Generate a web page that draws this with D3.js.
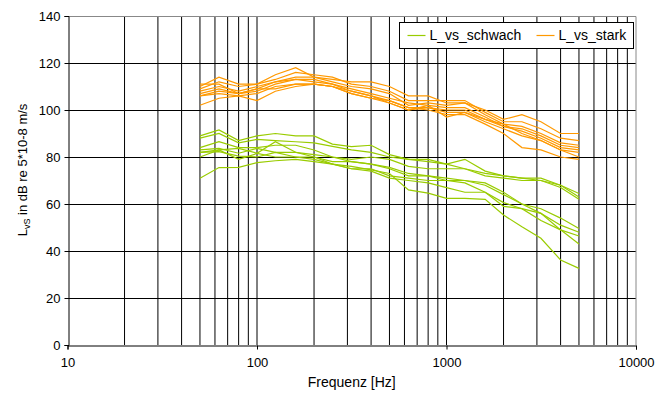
<!DOCTYPE html>
<html>
<head>
<meta charset="utf-8">
<script src="https://cdn.jsdelivr.net/npm/d3@7"></script>
<style>
  body { margin: 0; background: #fff; }
  text { font-family: "Liberation Sans", Arial, sans-serif; fill: #000; }
</style>
</head>
<body>
<script>
// third-octave centre frequencies (Hz)
var freqs = [50, 63, 80, 100, 125, 160, 200, 250, 315, 400, 500, 630, 800, 1000, 1250, 1600, 2000, 2500, 3150, 4000, 5000];

// L_vs_schwach measurements (dB re 5*10-8 m/s)
var schwach = [
  [89, 91.5, 87, 89, 90, 89, 89, 85.5, 84.4, 85, 81, 79, 79, 77, 79, 74, 72, 71, 71, 68, 64.5],
  [88, 90, 86, 87.5, 87, 86.5, 86, 84.5, 83, 82, 80, 79, 78, 77, 75, 73, 72, 71, 70, 68, 63],
  [84, 86.5, 84, 84, 85, 85, 83, 80, 79, 80, 79, 76, 75, 75, 75, 72, 71, 70, 70, 67, 62],
  [83, 83.7, 81.6, 83.7, 82, 82, 81, 80, 78, 77, 75, 72, 72, 71, 70, 69, 65, 60, 58, 54, 49.6],
  [82, 83, 83.7, 81.6, 86.5, 82, 80, 78, 78, 77, 75.6, 73, 72, 70, 70, 68, 64, 60, 56, 51, 48],
  [82, 82.3, 80.4, 80, 82, 80, 80, 77, 75, 75, 72, 71, 70, 70, 69, 65, 60.6, 58, 56, 49, 46.4],
  [80, 83, 79, 81.5, 80, 80, 79, 77, 75, 74, 71, 70, 69, 67, 65, 65, 59, 58, 53, 49, 43],
  [71, 75.5, 75.6, 77.6, 78.4, 79, 78, 77, 76, 74.5, 73, 66, 64.6, 62.4, 62.4, 62, 55.3, 50.3, 45.4, 36.2, 32.6]
];

// L_vs_stark measurements
var stark = [
  [110, 114, 111, 111, 115, 118, 114, 113, 112, 112, 110, 106, 106, 103, 103, 100, 96, 98, 95, 90, 90],
  [109, 112, 110, 111, 113, 116, 115, 114, 111, 110, 108, 104, 104, 104, 104, 99, 95, 95, 92, 88, 87],
  [108, 110, 108, 110, 112, 114, 114, 112, 110, 109, 107, 102, 103, 102, 103, 98, 94, 93, 90, 86, 85],
  [107, 109, 107, 109, 112, 113, 113, 111, 109, 107, 105, 103, 102, 101, 101, 97, 93, 92, 89, 85, 84],
  [106, 108, 107, 108, 111, 113, 112, 111, 108, 106, 104, 101, 101, 100, 100, 96, 93, 91, 88, 84, 83],
  [106, 107, 106, 107, 110, 111, 111, 110, 107, 105, 103, 100, 101, 99, 99, 96, 94, 90, 87, 83, 82],
  [102, 105, 106, 104, 108, 110, 111, 110, 108, 106, 103, 100, 102, 97, 99, 95, 92, 89, 87, 83, 80],
  [111, 111, 107, 109, 109, 111, 111, 110, 107, 105, 104, 101, 100, 98, 98, 94, 90, 84, 83, 80, 79]
];

var seriesNames = ["L_vs_schwach", "L_vs_stark"];
var seriesColors = ["#99cc00", "#ff9900"];

var xTicks = [10, 100, 1000, 10000];
var yTicks = [0, 20, 40, 60, 80, 100, 120, 140];

var width = 666, height = 395;
var margin = {left: 67.5, right: 30, top: 16, bottom: 50};

var svg = d3.select("body").append("svg")
  .attr("width", width)
  .attr("height", height);

var x = d3.scaleLog().domain([10, 10000]).range([margin.left, width - margin.right]);
var y = d3.scaleLinear().domain([0, 140]).range([height - margin.bottom, margin.top]);

// vertical grid at every 1-9 x decade
var gridX = [];
[10, 100, 1000].forEach(function(d) {
  for (var k = 2; k <= 10; k++) gridX.push(d * k);
});
gridX.pop(); // 10000 is the right frame

svg.append("g").selectAll("line")
  .data(gridX)
  .enter().append("line")
  .attr("x1", function(d) { return x(d); })
  .attr("x2", function(d) { return x(d); })
  .attr("y1", y(0))
  .attr("y2", y(140))
  .attr("stroke", "#000")
  .attr("stroke-width", 1);

svg.append("g").selectAll("line")
  .data(yTicks.slice(1, -1))
  .enter().append("line")
  .attr("x1", x(10))
  .attr("x2", x(10000))
  .attr("y1", function(d) { return Math.round(y(d)) + 0.5; })
  .attr("y2", function(d) { return Math.round(y(d)) + 0.5; })
  .attr("stroke", "#000");

// plot frame (top/right grey)
svg.append("path")
  .attr("d", "M" + x(10) + "," + (y(140) + 0.5) + "H" + x(10000) + "V" + y(0))
  .attr("fill", "none")
  .attr("stroke", "#888");

// series lines
var line = d3.line()
  .x(function(d, i) { return x(freqs[i]); })
  .y(function(d) { return y(d); });

[schwach, stark].forEach(function(group, gi) {
  svg.append("g").selectAll("path")
    .data(group)
    .enter().append("path")
    .attr("d", line)
    .attr("fill", "none")
    .attr("stroke", seriesColors[gi])
    .attr("stroke-width", 1.2);
});

// axes
var yAxis = svg.append("g")
  .attr("transform", "translate(" + Math.round(x(10)) + ".5,0)")
  .call(d3.axisLeft(y).tickValues(yTicks).tickSize(4).tickPadding(4));
var xAxis = svg.append("g")
  .attr("transform", "translate(0," + (Math.round(y(0)) + 0.5) + ")")
  .call(d3.axisBottom(x).tickValues(xTicks).tickFormat(d3.format("d")).tickSize(4).tickPadding(8));

[yAxis, xAxis].forEach(function(a) {
  a.select(".domain").attr("stroke", "#000");
  a.selectAll("line").attr("stroke", "#000");
  a.selectAll("text").style("font-size", "13px");
});

// axis titles
svg.append("text")
  .attr("x", (x(10) + x(10000)) / 2)
  .attr("y", 387)
  .attr("text-anchor", "middle")
  .style("font-size", "14px")
  .text("Frequenz [Hz]");

var yt = svg.append("text")
  .attr("transform", "translate(27,170) rotate(-90)")
  .attr("text-anchor", "middle")
  .style("font-size", "13px");
yt.append("tspan").text("L");
yt.append("tspan").attr("dy", 3).style("font-size", "9px").text("vS");
yt.append("tspan").attr("dy", -3).text(" in dB re 5*10-8 m/s");

// legend
var legend = svg.append("g").attr("transform", "translate(399.5,22.5)");
legend.append("rect")
  .attr("width", 234)
  .attr("height", 26)
  .attr("fill", "#fff")
  .attr("stroke", "#000");
var items = legend.selectAll("g.item")
  .data(seriesNames)
  .enter().append("g")
  .attr("class", "item")
  .attr("transform", function(d, i) { return "translate(" + (i === 0 ? 8 : 137) + ",13)"; });
items.append("line")
  .attr("x1", 0).attr("x2", 18)
  .attr("stroke", function(d, i) { return seriesColors[i]; })
  .attr("stroke-width", 1.2);
items.append("text")
  .attr("x", 22)
  .attr("dy", "0.35em")
  .style("font-size", "14px")
  .text(function(d) { return d; });
</script>
</body>
</html>
